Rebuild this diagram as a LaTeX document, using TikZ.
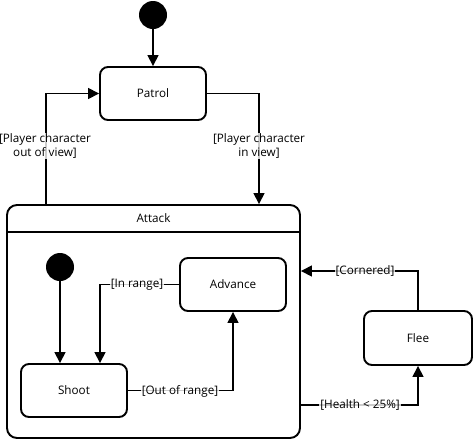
\documentclass[tikz,border=0pt]{standalone}
\usepackage{fontspec}
\setmainfont{Open Sans}
\usetikzlibrary{arrows.meta}
\begin{document}
\begin{tikzpicture}[x=1pt,y=-1pt,
  statebox/.style={draw,line width=1.9pt,rounded corners=8pt,minimum width=106pt,minimum height=53pt,inner sep=0pt,font=\fontsize{11.7}{14}\selectfont},
  initdot/.style={circle,fill=black,minimum size=28pt,inner sep=0pt},
  conn/.style={line width=1.6pt,-{Triangle[length=11pt,width=11pt]}},
  guard/.style={fill=white,fill opacity=0.8,text opacity=1,inner sep=1pt,font=\fontsize{11.7}{14}\selectfont,align=center}]
\useasboundingbox (0,0) rectangle (473,440);
% nodes
\node[initdot] (init1) at (153,15) {};
\node[statebox] (patrol) at (153,93.5) {Patrol};
\node[draw,line width=1.9pt,rounded corners=10pt,minimum width=293pt,minimum height=233pt,inner sep=0pt] (attack) at (153.5,321.5) {};
\node[font=\fontsize{11.7}{14}\selectfont] (attacktitle) at (153.5,218) {Attack};
\coordinate (hdrl) at (7,232);
\coordinate (hdrr) at (300,232);
\draw[line width=1.6pt] (hdrl) -- (hdrr);
\node[initdot] (init2) at (60,267) {};
\node[statebox] (shoot) at (74,390.5) {Shoot};
\node[statebox] (advance) at (233,284.5) {Advance};
\node[statebox,minimum width=108pt,minimum height=54pt] (flee) at (418,338) {Flee};
% helper coordinates
\coordinate (lx) at (46,0);
\coordinate (rx) at (259,0);
\coordinate (ix) at (100,0);
\coordinate (cy) at (0,271);
\coordinate (hy) at (0,405);
% connectors
\draw[conn] (init1) -- (patrol);
\draw[conn] (lx |- attack.north) |- (patrol.west);
\draw[conn] (patrol.east) -| (rx |- attack.north);
\draw[conn] (init2) -- (init2 |- shoot.north);
\draw[conn] (advance.west) -| (ix |- shoot.north);
\draw[conn] (shoot.east) -| (advance.south);
\draw[conn] (flee.north) |- (attack.east |- cy);
\draw[conn] (attack.east |- hy) -| (flee.south);
% guards
\node[guard] (g1) at (45,146) {[Player character\\out of view]};
\node[guard] (g2) at (259,146) {[Player character\\in view]};
\node[guard] (g3) at (137,284.5) {[In range]};
\node[guard] (g4) at (180,391) {[Out of range]};
\node[guard] (g5) at (365,271) {[Cornered]};
\node[guard] (g6) at (360,405) {[Health < 25\%]};
\end{tikzpicture}
\end{document}
